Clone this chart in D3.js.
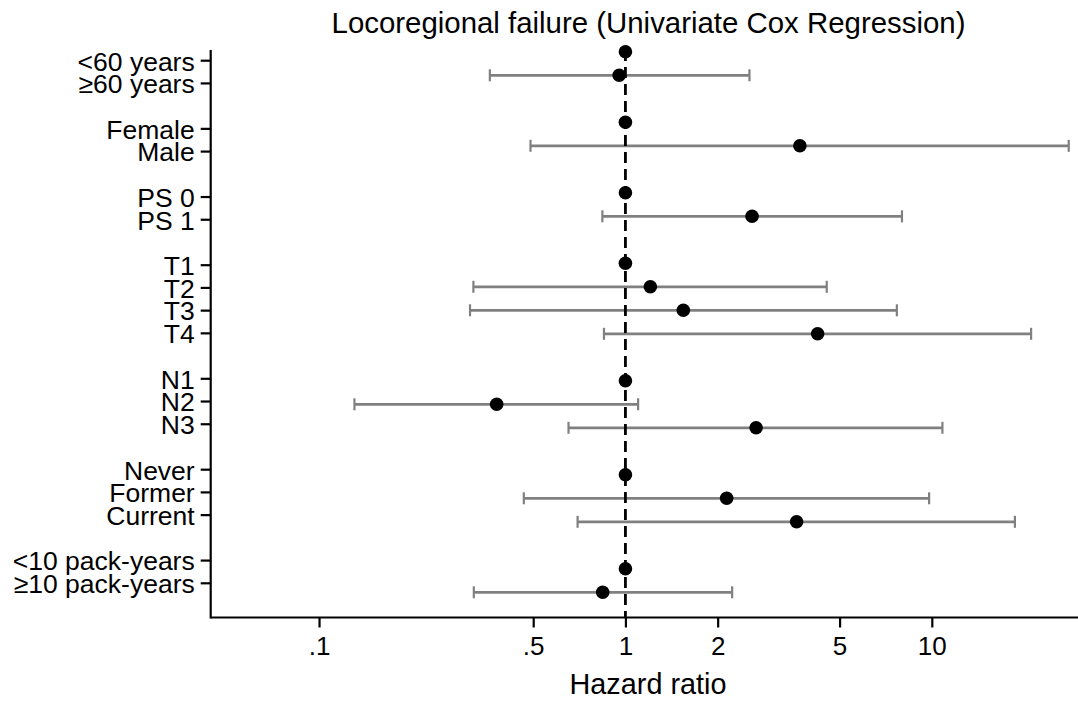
<!DOCTYPE html>
<html>
<head>
<meta charset="utf-8">
<script src="https://cdn.jsdelivr.net/npm/d3@7"></script>
<style>
  html, body { margin: 0; padding: 0; background: #fff; }
  svg { display: block; }
  text { font-family: "Liberation Sans", Arial, Helvetica, sans-serif; fill: #000; }
</style>
</head>
<body>
<svg id="chart" width="1078" height="704"></svg>
<script>
// ---- data ----
const labels = ["<60 years", "≥60 years", "Female", "Male", "PS 0", "PS 1",
  "T1", "T2", "T3", "T4", "N1", "N2", "N3",
  "Never", "Former", "Current", "<10 pack-years", "≥10 pack-years"];
const rows = [0, 1, 3, 4, 6, 7, 9, 10, 11, 12, 14, 15, 16, 18, 19, 20, 22, 23];
const hr   = [1, 0.954, 1, 3.71, 1, 2.59, 1, 1.206, 1.545, 4.24, 1, 0.38, 2.67, 1, 2.14, 3.62, 1, 0.843];
const lo   = [null, 0.361, null, 0.490, null, 0.841, null, 0.319, 0.311, 0.851, null, 0.1305, 0.652, null, 0.466, 0.698, null, 0.320];
const hi   = [null, 2.54, null, 27.98, null, 7.99, null, 4.54, 7.69, 21.09, null, 1.10, 10.83, null, 9.80, 18.67, null, 2.23];
const xTicks = [0.1, 0.5, 1, 2, 5, 10];
const xTickLabels = [".1", ".5", "1", "2", "5", "10"];
const refValue = 1;
const title = "Locoregional failure (Univariate Cox Regression)";
const xTitle = "Hazard ratio";

// ---- layout ----
const svg = d3.select("#chart");
const plotLeft = 210.7, plotRight = 1078, plotTop = 50, plotBottom = 617.5;
const x = d3.scaleLog().domain([0.0443, 30]).range([plotLeft, plotRight]);
const yPoint = d3.scaleLinear().domain([0, 23]).range([51.8, 592.3]);
const yTick = d3.scaleLinear().domain([0, 23]).range([60.7, 583.3]);

const data = labels.map((l, i) => ({ label: l, row: rows[i], hr: hr[i], lo: lo[i], hi: hi[i] }));
const ci = data.filter(d => d.lo != null);

// error bars
const gBars = svg.append("g").attr("stroke", "#808080").attr("stroke-width", 2.8);
gBars.selectAll("line.bar").data(ci).join("line").attr("class", "bar")
  .attr("x1", d => x(d.lo)).attr("x2", d => x(d.hi))
  .attr("y1", d => yPoint(d.row)).attr("y2", d => yPoint(d.row));
gBars.selectAll("line.capL").data(ci).join("line").attr("class", "capL")
  .attr("x1", d => x(d.lo)).attr("x2", d => x(d.lo))
  .attr("y1", d => yPoint(d.row) - 6).attr("y2", d => yPoint(d.row) + 6)
  .attr("stroke-width", 2.2);
gBars.selectAll("line.capR").data(ci).join("line").attr("class", "capR")
  .attr("x1", d => x(d.hi)).attr("x2", d => x(d.hi))
  .attr("y1", d => yPoint(d.row) - 6).attr("y2", d => yPoint(d.row) + 6)
  .attr("stroke-width", 2.2);

// reference line
svg.append("line")
  .attr("x1", x(refValue)).attr("x2", x(refValue))
  .attr("y1", plotTop).attr("y2", plotBottom)
  .attr("stroke", "#000").attr("stroke-width", 2.8)
  .attr("stroke-dasharray", "11,6");

// points
svg.append("g").selectAll("circle").data(data).join("circle")
  .attr("cx", d => x(d.hr)).attr("cy", d => yPoint(d.row))
  .attr("r", 6.8).attr("fill", "#000");

// x axis
const xAxis = d3.axisBottom(x).tickValues(xTicks)
  .tickFormat((d, i) => xTickLabels[i]).tickSize(10).tickSizeOuter(0).tickPadding(9);
const gx = svg.append("g").attr("transform", `translate(0,${plotBottom})`).call(xAxis);
gx.select(".domain").attr("stroke", "#000").attr("stroke-width", 2.2).attr("d", `M${plotLeft},0H${plotRight}`);
gx.selectAll(".tick line").attr("stroke", "#000").attr("stroke-width", 2.2);
gx.selectAll(".tick text").attr("font-size", 26).attr("fill", "#000")
  .attr("font-family", "Liberation Sans, Arial, sans-serif");

// y axis
const gy = svg.append("g").attr("transform", `translate(${plotLeft},0)`);
gy.append("line").attr("x1", 0).attr("x2", 0).attr("y1", plotTop).attr("y2", plotBottom + 1.1)
  .attr("stroke", "#000").attr("stroke-width", 2.2);
const yt = gy.selectAll("g.tick").data(data).join("g").attr("class", "tick")
  .attr("transform", d => `translate(0,${yTick(d.row)})`);
yt.append("line").attr("x1", -10).attr("x2", 0).attr("stroke", "#000").attr("stroke-width", 2.2);
yt.append("text").attr("x", -16).attr("dy", "0.37em")
  .attr("text-anchor", "end").attr("font-size", 26.5).text(d => d.label);

// titles
svg.append("text").attr("x", 648.5).attr("y", 33).attr("text-anchor", "middle")
  .attr("font-size", 29.4).text(title);
svg.append("text").attr("x", 648).attr("y", 694).attr("text-anchor", "middle")
  .attr("font-size", 28.8).text(xTitle);
</script>
</body>
</html>
